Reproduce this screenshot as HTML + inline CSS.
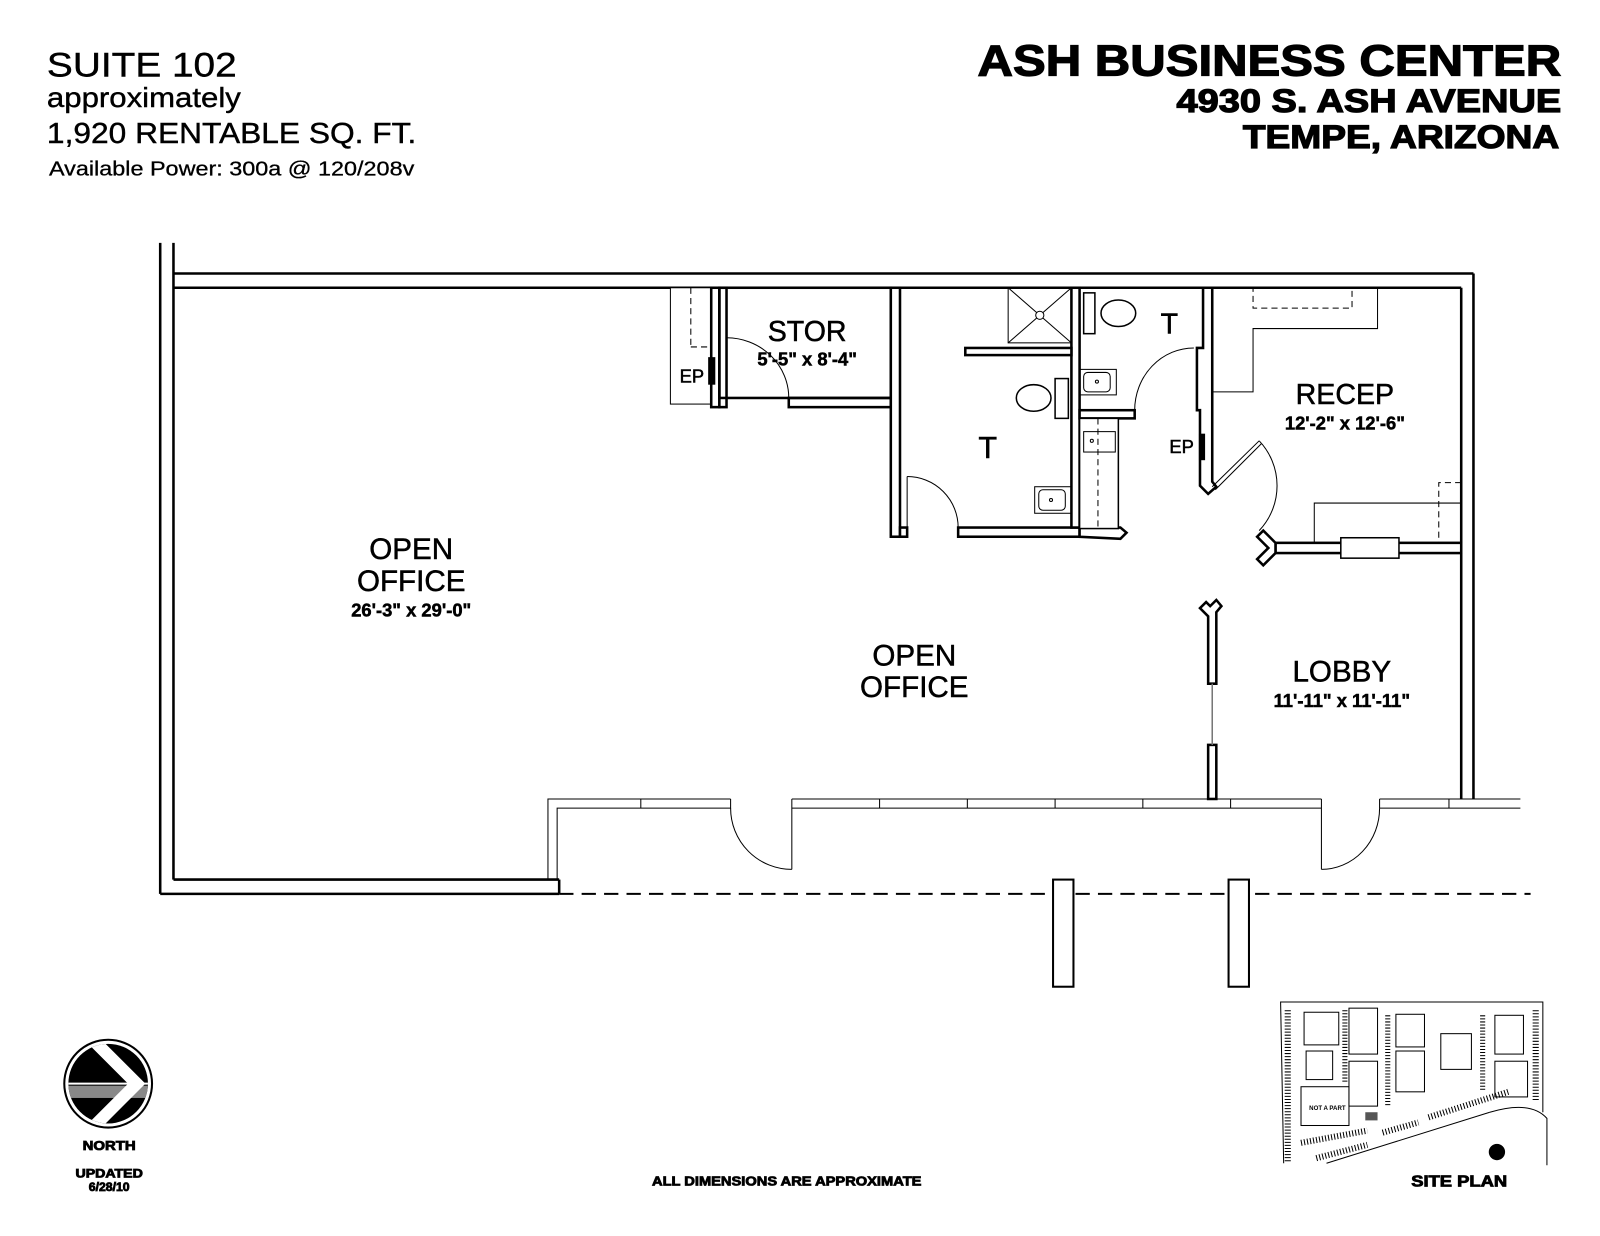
<!DOCTYPE html>
<html><head><meta charset="utf-8"><style>html,body{margin:0;padding:0;background:#fff}svg{display:block}</style></head>
<body>
<svg width="1600" height="1236" viewBox="0 0 1600 1236" xmlns="http://www.w3.org/2000/svg" font-family="Liberation Sans, Arial, sans-serif">
<rect width="1600" height="1236" fill="#fff"/>
<g transform="scale(1.0204)">
<!-- header -->
<text x="46" y="75" font-size="34" textLength="186" lengthAdjust="spacingAndGlyphs" stroke="#000" stroke-width="0.4">SUITE 102</text>
<text x="46" y="105" font-size="27" textLength="190" lengthAdjust="spacingAndGlyphs" stroke="#000" stroke-width="0.4">approximately</text>
<text x="46" y="140" font-size="28" textLength="362" lengthAdjust="spacingAndGlyphs" stroke="#000" stroke-width="0.4">1,920 RENTABLE SQ. FT.</text>
<text x="48" y="172" font-size="20" textLength="358" lengthAdjust="spacingAndGlyphs" stroke="#000" stroke-width="0.3">Available Power: 300a @ 120/208v</text>
<g stroke="#000" stroke-width="1.2" font-weight="bold">
<text x="958" y="74" font-size="43" textLength="572" lengthAdjust="spacingAndGlyphs">ASH BUSINESS CENTER</text>
<text x="1153" y="110" font-size="32" textLength="377" lengthAdjust="spacingAndGlyphs">4930 S. ASH AVENUE</text>
<text x="1218" y="145" font-size="32" textLength="310" lengthAdjust="spacingAndGlyphs">TEMPE, ARIZONA</text>
</g>

<g fill="#fff" stroke="#000" stroke-width="2.5">
<line x1="157" y1="238" x2="157" y2="876"/>
<line x1="170" y1="238" x2="170" y2="862"/>
<line x1="170" y1="268" x2="1444" y2="268"/>
<line x1="170" y1="282" x2="1432" y2="282"/>
<line x1="1444" y1="268" x2="1444" y2="783"/>
<line x1="1432" y1="282" x2="1432" y2="532"/>
<line x1="1432" y1="542" x2="1432" y2="783"/>
<line x1="170" y1="862" x2="548" y2="862"/>
<line x1="157" y1="876" x2="548" y2="876"/>
<line x1="548" y1="862" x2="548" y2="876"/>
</g>
<g fill="none" stroke="#000" stroke-width="1">
<polyline points="537,862 537,783 716,783"/>
<polyline points="546,862 546,792 716,792 716,783"/>
<line x1="776" y1="783" x2="1295" y2="783"/><line x1="776" y1="792" x2="1295" y2="792"/>
<line x1="776" y1="783" x2="776" y2="852"/><line x1="1295" y1="783" x2="1295" y2="852"/>
<line x1="1352" y1="783" x2="1490" y2="783"/><line x1="1352" y1="792" x2="1490" y2="792"/>
<line x1="1352" y1="783" x2="1352" y2="792"/>
<line x1="628" y1="783" x2="628" y2="792"/><line x1="862" y1="783" x2="862" y2="792"/>
<line x1="948" y1="783" x2="948" y2="792"/><line x1="1034" y1="783" x2="1034" y2="792"/>
<line x1="1120" y1="783" x2="1120" y2="792"/><line x1="1206" y1="783" x2="1206" y2="792"/>
<line x1="1420" y1="783" x2="1420" y2="792"/>
<path d="M716,792 A60,60 0 0 0 776,852"/>
<path d="M1352,792 A57,60 0 0 1 1295,852"/>
</g>
<line x1="548" y1="876" x2="1500" y2="876" stroke="#000" stroke-width="2" stroke-dasharray="14,8"/>
<rect x="1032" y="862" width="20" height="105" fill="#fff" stroke="#000" stroke-width="2"/>
<rect x="1204" y="862" width="20" height="105" fill="#fff" stroke="#000" stroke-width="2"/>

<g fill="#fff" stroke="#000" stroke-width="2.5">
<rect x="657" y="282" width="40" height="114" stroke-width="1"/>
<rect x="697" y="282" width="8" height="117"/>
<rect x="705" y="282" width="7" height="117"/>
<rect x="773" y="390" width="100" height="9"/>
<rect x="705" y="282" width="168" height="108" fill="none"/>
<rect x="873" y="282" width="9" height="244"/>
<rect x="882" y="517" width="7" height="9"/>
<rect x="939" y="517" width="119" height="9"/>
<path d="M1058,517 L1098,517 L1104,522 L1098,528 L1058,526Z"/>
<rect x="1050" y="282" width="8" height="235"/>
<rect x="946" y="341" width="104" height="7"/>
<rect x="1058" y="402" width="54" height="8"/>
<rect x="1058" y="410" width="38" height="108" stroke-width="1.5"/>
<path d="M1179,282 L1188,282 L1188,472 L1192,477 L1184,484 L1176,476 L1176,402 L1173,402 L1173,341 L1179,341Z"/>
<rect x="1250" y="532" width="182" height="10"/>
<path d="M1250,532 L1238,520 L1232,526 L1243,537 L1232,548 L1238,554 L1250,542Z"/>
<rect x="1314" y="527" width="57" height="20" stroke-width="1.5"/>
<path d="M1184,670 L1184,604 L1176,596 L1182,590 L1186,594 L1192,588 L1197,594 L1192,600 L1192,670Z"/>
<rect x="1184" y="730" width="8" height="53"/>
</g>
<line x1="1188" y1="670" x2="1188" y2="730" stroke="#777" stroke-width="1.5"/>
<g fill="none" stroke="#000" stroke-width="1">
<line x1="677" y1="282" x2="677" y2="340" stroke-dasharray="6,4"/>
<line x1="677" y1="340" x2="697" y2="340" stroke-dasharray="6,4"/>
<path d="M712,331 A61,59 0 0 1 773,390"/>
<line x1="712" y1="331" x2="712" y2="390"/>
<path d="M889,467 A50,50 0 0 1 939,517"/>
<line x1="889" y1="467" x2="889" y2="517"/>
<path d="M1112,402 A58,61 0 0 1 1170,341"/>
<line x1="1076" y1="410" x2="1076" y2="518" stroke-dasharray="6,4"/>
<path d="M1188,477 L1234,432 M1191,480 L1236,435"/>
<path d="M1234,432 A64,64 0 0 1 1234,520"/>
<rect x="988" y="282" width="62" height="54"/>
<line x1="988" y1="282" x2="1050" y2="336"/><line x1="1050" y1="282" x2="988" y2="336"/>
<circle cx="1019" cy="309" r="4" fill="#fff"/>
<g stroke-width="1.5">
<rect x="1034" y="371" width="13" height="39"/>
<ellipse cx="1013" cy="390" rx="17" ry="13"/>
<rect x="1062" y="287" width="11" height="40"/>
<ellipse cx="1096" cy="307" rx="17" ry="13"/>
</g>
<rect x="1014" y="477" width="36" height="26"/><rect x="1018" y="480" width="26" height="20" rx="4"/><circle cx="1030" cy="490" r="1.5"/>
<rect x="1058" y="362" width="36" height="25"/><rect x="1062" y="365" width="26" height="19" rx="4"/><circle cx="1075" cy="374" r="1.5"/>
<rect x="1062" y="423" width="31" height="20"/><circle cx="1070" cy="432" r="1.5"/>
<polyline points="1188,384 1228,384 1228,322 1350,322 1350,282"/>
<rect x="1228" y="282" width="97" height="20" stroke-dasharray="6,4"/>
<polyline points="1288,532 1288,493 1432,493"/>
<polyline points="1432,473 1410,473 1410,532" stroke-dasharray="6,4"/>
</g>
<rect x="694" y="350" width="7" height="27" fill="#000"/>
<rect x="1175" y="425" width="6" height="26" fill="#000"/>

<g text-anchor="middle" stroke="#000" stroke-width="0.5">
<text x="791" y="334" font-size="28">STOR</text>
<text x="791" y="358" font-size="18" font-weight="bold">5'-5" x 8'-4"</text>
<text x="678" y="375" font-size="18">EP</text>
<text x="968" y="449" font-size="30">T</text>
<text x="1146" y="327" font-size="28">T</text>
<text x="1158" y="444" font-size="18">EP</text>
<text x="1318" y="396" font-size="28">RECEP</text>
<text x="1318" y="421" font-size="18" font-weight="bold">12'-2" x 12'-6"</text>
<text x="403" y="548" font-size="29">OPEN</text>
<text x="403" y="579" font-size="29">OFFICE</text>
<text x="403" y="604" font-size="18" font-weight="bold">26'-3" x 29'-0"</text>
<text x="896" y="652" font-size="29">OPEN</text>
<text x="896" y="683" font-size="29">OFFICE</text>
<text x="1315" y="668" font-size="29">LOBBY</text>
<text x="1315" y="693" font-size="18" font-weight="bold">11'-11" x 11'-11"</text>
</g>
<g text-anchor="middle" font-weight="bold" stroke="#000" stroke-width="0.8">
<text x="107" y="1127" font-size="13" textLength="52" lengthAdjust="spacingAndGlyphs">NORTH</text>
<text x="107" y="1154" font-size="12" textLength="66" lengthAdjust="spacingAndGlyphs">UPDATED</text>
<text x="107" y="1167" font-size="12">6/28/10</text>
<text x="771" y="1162" font-size="13" textLength="264" lengthAdjust="spacingAndGlyphs">ALL DIMENSIONS ARE APPROXIMATE</text>
<text x="1430" y="1163" font-size="15" textLength="94" lengthAdjust="spacingAndGlyphs">SITE PLAN</text>
</g>

<circle cx="106" cy="1062" r="43" fill="#fff" stroke="#000" stroke-width="2"/>
<clipPath id="nc"><circle cx="106" cy="1062" r="39"/></clipPath>
<g clip-path="url(#nc)">
<rect x="60" y="1020" width="100" height="90" fill="#000"/>
<rect x="60" y="1064" width="100" height="12" fill="#888"/>
<line x1="60" y1="1062" x2="160" y2="1062" stroke="#fff" stroke-width="2"/>
<polyline points="90,1018 134,1062 90,1106" fill="none" stroke="#fff" stroke-width="12"/>
</g>

<g fill="none" stroke="#000" stroke-width="1">
<polyline points="1258,1140 1255,982 1512,982 1512,1090"/>
<line x1="1262" y1="990" x2="1262" y2="1138" stroke-width="6" stroke-dasharray="1,2"/>
<line x1="1505" y1="990" x2="1505" y2="1080" stroke-width="6" stroke-dasharray="1,2"/>
<line x1="1318" y1="990" x2="1318" y2="1060" stroke-width="5" stroke-dasharray="1,2"/>
<line x1="1360" y1="995" x2="1360" y2="1085" stroke-width="5" stroke-dasharray="1,2"/>
<line x1="1453" y1="995" x2="1453" y2="1070" stroke-width="5" stroke-dasharray="1,2"/>
<rect x="1278" y="992" width="34" height="32"/>
<rect x="1280" y="1030" width="26" height="28"/>
<rect x="1275" y="1065" width="47" height="38"/>
<rect x="1322" y="988" width="28" height="45"/>
<rect x="1322" y="1040" width="28" height="44"/>
<rect x="1368" y="994" width="28" height="32"/>
<rect x="1368" y="1030" width="28" height="40"/>
<rect x="1412" y="1013" width="30" height="35"/>
<rect x="1465" y="995" width="28" height="38"/>
<rect x="1465" y="1040" width="32" height="35"/>
<line x1="1275" y1="1120" x2="1340" y2="1108" stroke-width="6" stroke-dasharray="1,2"/>
<line x1="1290" y1="1135" x2="1340" y2="1122" stroke-width="6" stroke-dasharray="1,2"/>
<line x1="1355" y1="1110" x2="1390" y2="1100" stroke-width="6" stroke-dasharray="1,2"/>
<line x1="1400" y1="1095" x2="1478" y2="1070" stroke-width="6" stroke-dasharray="1,2"/>
<line x1="1300" y1="1140" x2="1460" y2="1090"/>
<path d="M1460,1090 Q1500,1078 1516,1096 L1516,1142"/>
</g>
<rect x="1338" y="1090" width="12" height="8" fill="#555"/>
<text x="1283" y="1088" font-size="6" font-weight="bold">NOT A PART</text>
<circle cx="1467" cy="1129" r="8" fill="#000"/>
</g>
</svg>
</body></html>
